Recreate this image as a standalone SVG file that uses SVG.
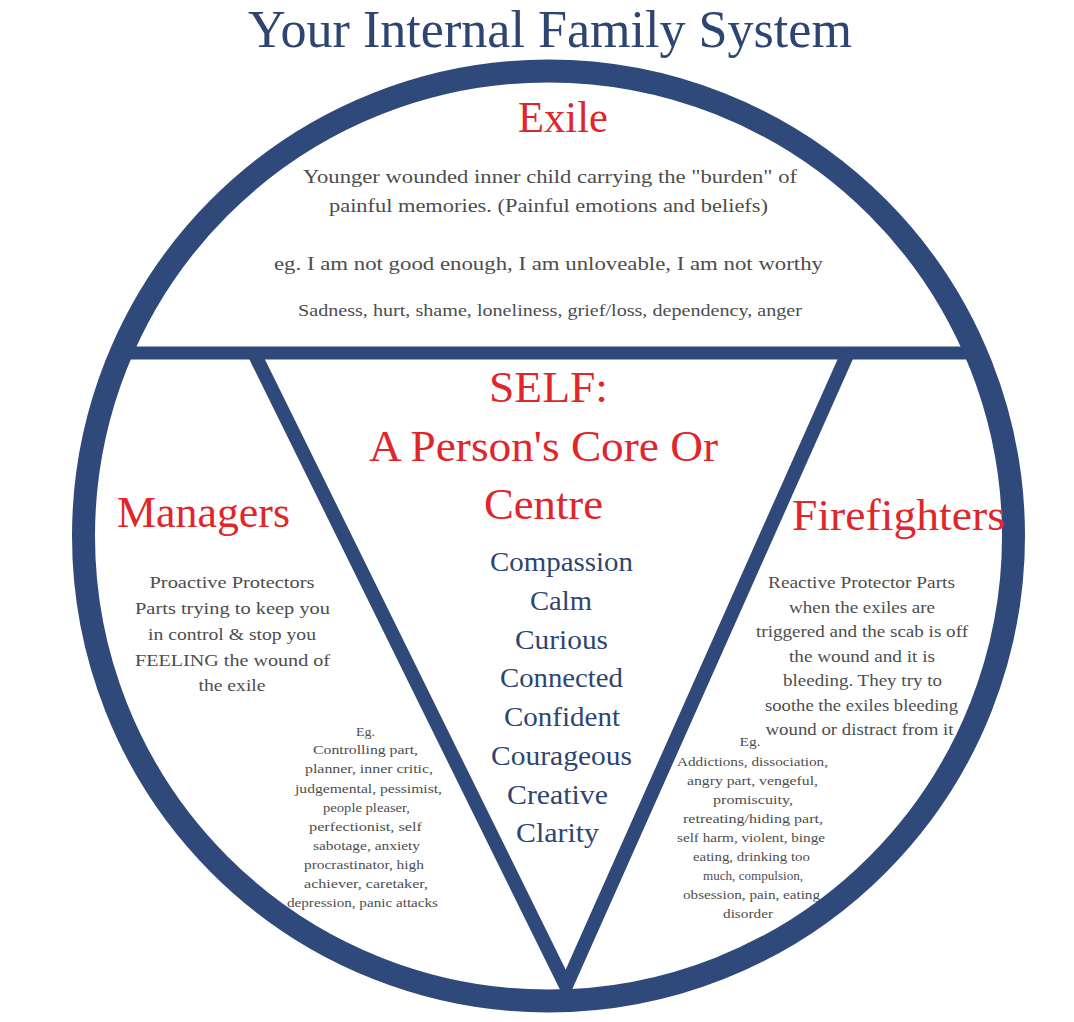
<svg xmlns="http://www.w3.org/2000/svg" width="1074" height="1022" viewBox="0 0 1074 1022">
<style>
text{font-family:"Liberation Serif","DejaVu Serif",serif;text-anchor:middle}
.title{font-size:52px;fill:#2e4571}
.head{font-size:44px;fill:#e0262b}
.body{font-size:19px;fill:#4d4d4d}
.mid{font-size:17px;fill:#4d4d4d}
.small{font-size:13px;fill:#4d4d4d}
.qual{font-size:28px;fill:#2e4571}
.band{fill:none;stroke:#2f4a7a}
</style>
<rect width="1074" height="1022" fill="#ffffff"/>
<g id="frame">
<line class="band" x1="118" y1="353" x2="980" y2="353" stroke-width="13"/>
<polyline class="band" points="254,353 566,986 848,353" stroke-width="14" stroke-linejoin="miter"/>
<circle class="band" cx="548.5" cy="536" r="465" stroke-width="23"/>
</g>
<g id="title">
<text class="title" x="550" y="47" textLength="604" lengthAdjust="spacingAndGlyphs">Your Internal Family System</text>
</g>
<g id="exile">
<text class="head" x="563" y="132" textLength="90" lengthAdjust="spacingAndGlyphs">Exile</text>
<text class="body" x="550" y="183" textLength="494" lengthAdjust="spacingAndGlyphs">Younger wounded inner child carrying the "burden" of</text>
<text class="body" x="548.5" y="212" textLength="439" lengthAdjust="spacingAndGlyphs">painful memories. (Painful emotions and beliefs)</text>
<text class="body" x="548.5" y="270" textLength="549" lengthAdjust="spacingAndGlyphs">eg. I am not good enough, I am unloveable, I am not worthy</text>
<text class="mid" x="550" y="316" textLength="504" lengthAdjust="spacingAndGlyphs">Sadness, hurt, shame, loneliness, grief/loss, dependency, anger</text>
</g>
<g id="self">
<text class="head" x="548.5" y="402" textLength="119" lengthAdjust="spacingAndGlyphs">SELF:</text>
<text class="head" x="543.5" y="461" textLength="349" lengthAdjust="spacingAndGlyphs">A Person's Core Or</text>
<text class="head" x="543.5" y="519" textLength="119" lengthAdjust="spacingAndGlyphs">Centre</text>
<text class="qual" x="561.5" y="571" textLength="143" lengthAdjust="spacingAndGlyphs">Compassion</text>
<text class="qual" x="561" y="610" textLength="62" lengthAdjust="spacingAndGlyphs">Calm</text>
<text class="qual" x="561.5" y="649" textLength="93" lengthAdjust="spacingAndGlyphs">Curious</text>
<text class="qual" x="561.5" y="687" textLength="123" lengthAdjust="spacingAndGlyphs">Connected</text>
<text class="qual" x="562" y="726" textLength="116" lengthAdjust="spacingAndGlyphs">Confident</text>
<text class="qual" x="561.5" y="765" textLength="141" lengthAdjust="spacingAndGlyphs">Courageous</text>
<text class="qual" x="557.5" y="804" textLength="101" lengthAdjust="spacingAndGlyphs">Creative</text>
<text class="qual" x="557.5" y="842" textLength="83" lengthAdjust="spacingAndGlyphs">Clarity</text>
</g>
<g id="managers">
<text class="head" x="203.5" y="527" textLength="173" lengthAdjust="spacingAndGlyphs">Managers</text>
<text class="mid" x="232" y="588" textLength="165" lengthAdjust="spacingAndGlyphs">Proactive Protectors</text>
<text class="mid" x="232.5" y="614" textLength="195" lengthAdjust="spacingAndGlyphs">Parts trying to keep you</text>
<text class="mid" x="232" y="640" textLength="168" lengthAdjust="spacingAndGlyphs">in control &amp; stop you</text>
<text class="mid" x="232.5" y="666" textLength="195" lengthAdjust="spacingAndGlyphs">FEELING the wound of</text>
<text class="mid" x="232" y="691" textLength="67" lengthAdjust="spacingAndGlyphs">the exile</text>
<text class="small" x="365.5" y="736" textLength="19" lengthAdjust="spacingAndGlyphs">Eg.</text>
<text class="small" x="365.5" y="754" textLength="105" lengthAdjust="spacingAndGlyphs">Controlling part,</text>
<text class="small" x="369" y="773" textLength="128" lengthAdjust="spacingAndGlyphs">planner, inner critic,</text>
<text class="small" x="368.5" y="793" textLength="147" lengthAdjust="spacingAndGlyphs">judgemental, pessimist,</text>
<text class="small" x="366.5" y="812" textLength="87" lengthAdjust="spacingAndGlyphs">people pleaser,</text>
<text class="small" x="365.5" y="831" textLength="113" lengthAdjust="spacingAndGlyphs">perfectionist, self</text>
<text class="small" x="366.5" y="850" textLength="107" lengthAdjust="spacingAndGlyphs">sabotage, anxiety</text>
<text class="small" x="364" y="869" textLength="120" lengthAdjust="spacingAndGlyphs">procrastinator, high</text>
<text class="small" x="366" y="888" textLength="124" lengthAdjust="spacingAndGlyphs">achiever, caretaker,</text>
<text class="small" x="362.5" y="907" textLength="151" lengthAdjust="spacingAndGlyphs">depression, panic attacks</text>
</g>
<g id="firefighters">
<text class="head" x="898.5" y="530" textLength="213" lengthAdjust="spacingAndGlyphs">Firefighters</text>
<text class="mid" x="861.5" y="588" textLength="187" lengthAdjust="spacingAndGlyphs">Reactive Protector Parts</text>
<text class="mid" x="862" y="612.5" textLength="146" lengthAdjust="spacingAndGlyphs">when the exiles are</text>
<text class="mid" x="862" y="637" textLength="212" lengthAdjust="spacingAndGlyphs">triggered and the scab is off</text>
<text class="mid" x="862" y="661.5" textLength="146" lengthAdjust="spacingAndGlyphs">the wound and it is</text>
<text class="mid" x="862.5" y="686" textLength="159" lengthAdjust="spacingAndGlyphs">bleeding. They try to</text>
<text class="mid" x="861.5" y="710.5" textLength="193" lengthAdjust="spacingAndGlyphs">soothe the exiles bleeding</text>
<text class="mid" x="859.5" y="735" textLength="188" lengthAdjust="spacingAndGlyphs">wound or distract from it</text>
<text class="small" x="750" y="746" textLength="21" lengthAdjust="spacingAndGlyphs">Eg.</text>
<text class="small" x="752.5" y="766" textLength="151" lengthAdjust="spacingAndGlyphs">Addictions, dissociation,</text>
<text class="small" x="752.5" y="785" textLength="131" lengthAdjust="spacingAndGlyphs">angry part, vengeful,</text>
<text class="small" x="753" y="804" textLength="80" lengthAdjust="spacingAndGlyphs">promiscuity,</text>
<text class="small" x="753" y="823" textLength="140" lengthAdjust="spacingAndGlyphs">retreating/hiding part,</text>
<text class="small" x="751" y="842" textLength="148" lengthAdjust="spacingAndGlyphs">self harm, violent, binge</text>
<text class="small" x="751.5" y="861" textLength="117" lengthAdjust="spacingAndGlyphs">eating, drinking too</text>
<text class="small" x="753" y="880" textLength="100" lengthAdjust="spacingAndGlyphs">much, compulsion,</text>
<text class="small" x="751.5" y="899" textLength="137" lengthAdjust="spacingAndGlyphs">obsession, pain, eating</text>
<text class="small" x="748" y="918" textLength="50" lengthAdjust="spacingAndGlyphs">disorder</text>
</g>
</svg>
